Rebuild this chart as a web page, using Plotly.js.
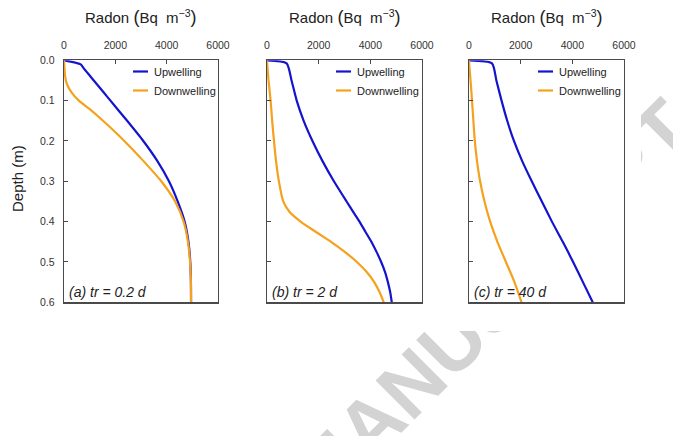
<!DOCTYPE html>
<html>
<head>
<meta charset="utf-8">
<script src="https://cdn.plot.ly/plotly-3.0.1.min.js"></script>
<style>
  html, body { margin: 0; padding: 0; background: #fff; }
  #wrap { position: relative; width: 673px; height: 436px; overflow: hidden; }
  #stamp, #chart { position: absolute; left: 0; top: 0; }
</style>
</head>
<body>
<div id="wrap">
  <svg id="stamp" width="673" height="436">
    <text id="stampText" x="-4" y="838" transform="rotate(-45 -4 838)"
          font-family="Liberation Sans, Arial, sans-serif" font-weight="bold"
          font-size="80" fill="#d3d3d3">ACCEPTED MANUSCRIPT</text>
    <rect x="0" y="0" width="641" height="331" fill="#fff"></rect>
  </svg>
  <div id="chart"></div>
</div>
<script>
// Radon concentration profiles (Bq m^-3) against depth (m)
// for three residence times, upwelling vs downwelling flow.

const radonTicks = [0, 2000, 4000, 6000];
const radonTickText = ['0', '2000', '4000', '6000'];
const depthTicks = [0, 0.1, 0.2, 0.3, 0.4, 0.5, 0.6];
const depthTickText = ['0.0', '0.1', '0.2', '0.3', '0.4', '0.5', '0.6'];
const seriesNames = ['Upwelling', 'Downwelling'];
const panelLabels = ['(a) tr = 0.2 d', '(b) tr = 2 d', '(c) tr = 40 d'];

// (a) tr = 0.2 d
const depthA = [0, 0.01, 0.02, 0.04, 0.06, 0.08, 0.10, 0.12, 0.15, 0.20, 0.25, 0.30, 0.35, 0.40, 0.45, 0.50, 0.55, 0.60];
const upA    = [0, 650, 770, 1030, 1290, 1550, 1810, 2070, 2460, 3090, 3640, 4090, 4430, 4700, 4850, 4920, 4945, 4950];
const downA  = [0, 8, 18, 45, 120, 300, 580, 980, 1520, 2350, 3100, 3790, 4330, 4660, 4830, 4910, 4945, 4950];

// (b) tr = 2 d
const depthB = [0, 0.0075, 0.05, 0.10, 0.15, 0.20, 0.25, 0.30, 0.35, 0.375, 0.40, 0.425, 0.45, 0.475, 0.50, 0.525, 0.55, 0.575, 0.60];
const upB    = [0, 760, 950, 1150, 1420, 1760, 2150, 2590, 3080, 3330, 3580, 3810, 4040, 4240, 4420, 4570, 4680, 4770, 4830];
const downB  = [0, 5, 60, 140, 200, 270, 350, 460, 630, 860, 1300, 1880, 2480, 3010, 3480, 3860, 4150, 4360, 4520];

// (c) tr = 40 d
const depthC = [0, 0.0075, 0.05, 0.10, 0.15, 0.20, 0.25, 0.30, 0.35, 0.40, 0.45, 0.50, 0.55, 0.60];
const upC    = [0, 890, 1060, 1260, 1480, 1740, 2060, 2430, 2820, 3210, 3630, 4030, 4410, 4790];
const downC  = [0, 5, 60, 117, 170, 225, 310, 430, 600, 820, 1100, 1430, 1760, 2035];

const W = 673, H = 436;
const FONT = 'Liberation Sans, Arial, Helvetica, sans-serif';
const BLUE = '#1414cf';
const ORANGE = '#f5a11e';
const FRAME = '#4a4a4a';

const fx = p => p / W;       // pixel column -> paper x
const fy = p => 1 - p / H;   // pixel row -> paper y

const panels = [
  { left: 64,  right: 218, depth: depthA, up: upA, down: downA },
  { left: 267, right: 422, depth: depthB, up: upB, down: downB },
  { left: 469, right: 624, depth: depthC, up: upC, down: downC }
];
const plotTop = 60.3, plotBottom = 302.3;

const traces = [];
const layout = {
  width: W, height: H,
  margin: { l: 0, r: 0, t: 0, b: 0 },
  paper_bgcolor: 'rgba(0,0,0,0)',
  plot_bgcolor: 'rgba(0,0,0,0)',
  font: { family: FONT, color: '#222' },
  annotations: []
};

panels.forEach((p, i) => {
  const sfx = i === 0 ? '' : String(i + 1);
  const legendId = 'legend' + sfx;

  [[p.up, BLUE, 0], [p.down, ORANGE, 1]].forEach(([vals, color, k]) => {
    traces.push({
      type: 'scatter', mode: 'lines',
      x: vals, y: p.depth,
      xaxis: 'x' + sfx, yaxis: 'y' + sfx,
      name: seriesNames[k],
      legend: legendId,
      line: { color: color, width: 2.2, shape: 'spline', smoothing: 0.6 },
      hoverinfo: 'skip'
    });
  });

  const common = {
    showline: true, mirror: true, linecolor: FRAME, linewidth: 1.3,
    ticks: 'inside', ticklen: 4, tickwidth: 1, tickcolor: FRAME,
    showgrid: false, zeroline: false,
    tickfont: { family: FONT, size: 10.5, color: '#333' }
  };

  layout['xaxis' + sfx] = Object.assign({}, common, {
    domain: [fx(p.left), fx(p.right)],
    anchor: 'y' + sfx, side: 'top',
    range: [0, 6000], tickmode: 'array',
    tickvals: radonTicks, ticktext: radonTickText,
    ticklabelstandoff: 6
  });
  layout['yaxis' + sfx] = Object.assign({}, common, {
    domain: [fy(plotBottom), fy(plotTop)],
    anchor: 'x' + sfx,
    range: [0.6, 0], tickmode: 'array',
    tickvals: depthTicks, ticktext: depthTickText,
    showticklabels: i === 0,
    ticklabelstandoff: 6
  });

  layout[legendId] = {
    x: fx(p.left + 50), y: fy(57), xanchor: 'left', yanchor: 'top',
    bgcolor: 'rgba(0,0,0,0)', borderwidth: 0,
    font: { family: FONT, size: 11, color: '#222' }
  };

  // panel title above the radon axis
  layout.annotations.push({
    xref: 'paper', yref: 'paper',
    x: fx((p.left + p.right) / 2), y: fy(17),
    xanchor: 'center', yanchor: 'middle', showarrow: false,
    text: 'Radon <span style="font-size:18px">(</span>Bq\u00a0\u00a0m<sup>\u22123</sup><span style="font-size:18px">)</span>',
    font: { family: FONT, size: 15, color: '#222' }
  });

  // residence-time label, lower left inside the panel
  layout.annotations.push({
    xref: 'paper', yref: 'paper',
    x: fx(p.left + 3), y: fy(292),
    xanchor: 'left', yanchor: 'middle', showarrow: false,
    text: '<i>' + panelLabels[i] + '</i>',
    font: { family: FONT, size: 14, color: '#222' }
  });
});

// shared depth label
layout.annotations.push({
  xref: 'paper', yref: 'paper',
  x: fx(17), y: fy(179),
  xanchor: 'center', yanchor: 'middle', showarrow: false,
  textangle: -90,
  text: 'Depth (m)',
  font: { family: FONT, size: 15, color: '#222' }
});

Plotly.newPlot('chart', traces, layout, { staticPlot: true, displayModeBar: false })
  .then(gd => {
    // shorter legend swatches
    gd.querySelectorAll('.legendlines path').forEach(el => el.setAttribute('d', 'M19,0h15'));
  });
</script>
</body>
</html>
